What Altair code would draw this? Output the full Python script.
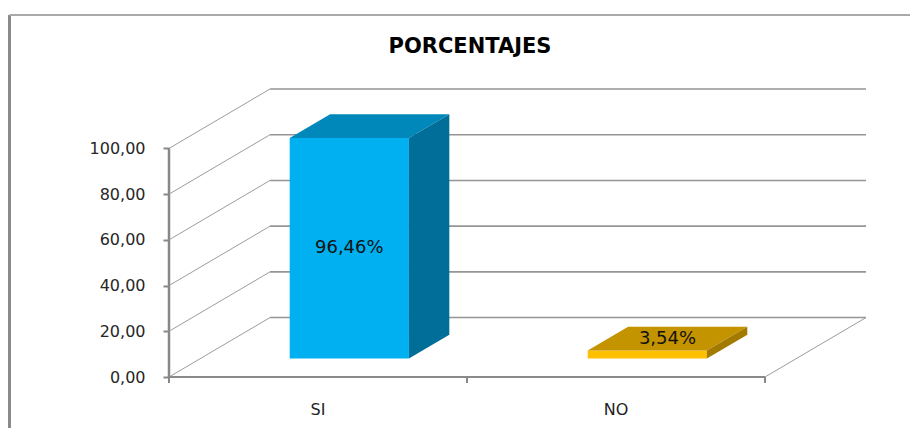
import altair as alt
import pandas as pd

# ---------------- data ----------------
CATEGORIES = ["SI", "NO"]
VALUES = [96.46, 3.54]
Y_TICKS = [0, 20, 40, 60, 80, 100]
TITLE = "PORCENTAJES"

# ---------------- style / geometry ----------------
FRONT = ["#00B0F0", "#FFC000"]
TOP = ["#0088BA", "#C49300"]
SIDE = ["#006E99", "#A37A00"]
GRID = "#959595"
DX = 0.339   # depth shift (category units)
DY = 26.0    # depth shift (value units)
Z0 = 0.31    # bar start along depth
BD = 0.40    # bar depth fraction
BW = 0.40    # bar width as fraction of band
W, H = 697, 288
N = len(CATEGORIES)
X_MAX = N + DX
Y_MAX = 126

xs = alt.Scale(domain=[0, X_MAX], nice=False, zero=False)
ys = alt.Scale(domain=[0, Y_MAX], nice=False, zero=False)

# back wall grid lines and side-wall diagonals
grid = pd.DataFrame({"v": Y_TICKS})
grid["bx"] = DX
grid["bx2"] = N + DX
grid["by"] = grid["v"] + DY
grid["sx"] = 0.0
grid["sx2"] = DX

# bars
front_rows, top_rows, side_rows, lab_rows = [], [], [], []
for i, (c, v) in enumerate(zip(CATEGORIES, VALUES)):
    ox, oy = Z0 * DX, Z0 * DY
    bdx, bdy = BD * DX, BD * DY
    x0 = i + (1 - BW) / 2 + ox
    x1 = x0 + BW
    y0 = oy
    y1 = v + oy
    front_rows.append({"cat": c, "x0": x0, "x1": x1, "y0": y0, "y1": y1})
    top_rows.append({"cat": c, "y": y1, "x": x0, "x2": x1})
    top_rows.append({"cat": c, "y": y1 + bdy, "x": x0 + bdx, "x2": x1 + bdx})
    side_rows.append({"cat": c, "x": x1, "y": y0, "y2": y1})
    side_rows.append({"cat": c, "x": x1 + bdx, "y": y0 + bdy, "y2": y1 + bdy})
    label = f"{v:.2f}".replace(".", ",") + "%"
    if v >= 10:
        lx, ly = (x0 + x1) / 2, (y0 + y1) / 2
    else:
        lx, ly = (x0 + x1) / 2 + bdx / 2, y1 + bdy / 2
    lab_rows.append({"cat": c, "x": lx, "y": ly, "label": label})

front = pd.DataFrame(front_rows)
top = pd.DataFrame(top_rows)
side = pd.DataFrame(side_rows)
labs = pd.DataFrame(lab_rows)
cats = pd.DataFrame({"cat": CATEGORIES, "x": [i + 0.5 for i in range(N)]})
xticks = pd.DataFrame({"x": list(range(N + 1))})
one = pd.DataFrame({"t": [TITLE]})

yaxis = alt.Axis(values=Y_TICKS, format=".2f",
                 labelExpr="replace(datum.label, '.', ',')",
                 domain=False, grid=False, tickSize=6, tickColor="#888888",
                 tickWidth=2, labelFont="DejaVu Sans", labelFontSize=16,
                 labelColor="#262626", labelPadding=18, title=None)

# front axis line (carries the y axis)
axis_line = alt.Chart(pd.DataFrame({"y": [0], "y2": [Y_TICKS[-1]]})).mark_rule(
    color="#888888", strokeWidth=2.5).encode(
    x=alt.value(0),
    y=alt.Y("y:Q", scale=ys, axis=yaxis),
    y2="y2:Q")

back_grid = alt.Chart(grid).mark_rule(color=GRID, strokeWidth=1.6).encode(
    x=alt.X("bx:Q", scale=xs, axis=None), x2="bx2:Q",
    y=alt.Y("by:Q", scale=ys))

side_grid = alt.Chart(grid).mark_rule(color="#9c9c9c", strokeWidth=1).encode(
    x=alt.X("sx:Q", scale=xs, axis=None), x2="sx2:Q",
    y=alt.Y("v:Q", scale=ys), y2="by:Q")

floor_front = alt.Chart(pd.DataFrame({"x": [0], "x2": [N], "y": [0]})).mark_rule(
    color="#8a8a8a", strokeWidth=2).encode(
    x=alt.X("x:Q", scale=xs, axis=None), x2="x2:Q",
    y=alt.Y("y:Q", scale=ys))

floor_right = alt.Chart(pd.DataFrame({"x": [N], "x2": [N + DX], "y": [0], "y2": [DY]})).mark_rule(
    color="#9c9c9c", strokeWidth=1).encode(
    x=alt.X("x:Q", scale=xs, axis=None), x2="x2:Q",
    y=alt.Y("y:Q", scale=ys), y2="y2:Q")

ticks_x = alt.Chart(xticks).mark_rule(color="#888888", strokeWidth=2).encode(
    x=alt.X("x:Q", scale=xs, axis=None),
    y=alt.value(H), y2=alt.value(H + 6))

front_face = alt.Chart(front).mark_rect().encode(
    x=alt.X("x0:Q", scale=xs, axis=None), x2="x1:Q",
    y=alt.Y("y0:Q", scale=ys), y2="y1:Q",
    color=alt.Color("cat:N", scale=alt.Scale(domain=CATEGORIES, range=FRONT), legend=None))

top_face = alt.Chart(top).mark_area(orient="horizontal", opacity=1).encode(
    y=alt.Y("y:Q", scale=ys),
    x=alt.X("x:Q", scale=xs, axis=None, stack=None), x2="x2:Q",
    color=alt.Color("cat:N", scale=alt.Scale(domain=CATEGORIES, range=TOP), legend=None))

side_face = alt.Chart(side).mark_area(orient="vertical", opacity=1).encode(
    x=alt.X("x:Q", scale=xs, axis=None),
    y=alt.Y("y:Q", scale=ys, stack=None), y2="y2:Q",
    color=alt.Color("cat:N", scale=alt.Scale(domain=CATEGORIES, range=SIDE), legend=None))

bar_labels = alt.Chart(labs).mark_text(
    font="DejaVu Sans", fontSize=18, color="#111111", align="center", baseline="middle").encode(
    x=alt.X("x:Q", scale=xs, axis=None),
    y=alt.Y("y:Q", scale=ys),
    text="label:N")

cat_labels = alt.Chart(cats).mark_text(
    font="DejaVu Sans", fontSize=16, color="#222222", align="center", baseline="middle").encode(
    x=alt.X("x:Q", scale=xs, axis=None),
    y=alt.value(H + 33),
    text="cat:N")

title_mark = alt.Chart(one).mark_text(
    font="DejaVu Sans", fontSize=21, fontWeight="bold", color="#000000",
    align="center", baseline="middle").encode(
    x=alt.value(301), y=alt.value(-42), text="t:N")

border_left = alt.Chart(one).mark_rule(color="#8a8a8a", strokeWidth=3).encode(
    x=alt.value(-159.5), y=alt.value(-74), y2=alt.value(H + 70))
border_top = alt.Chart(one).mark_rule(color="#aaaaaa", strokeWidth=2).encode(
    x=alt.value(-159.5), x2=alt.value(W + 70), y=alt.value(-74))

chart = alt.layer(
    axis_line, back_grid, side_grid, floor_front, floor_right, ticks_x,
    front_face, top_face, side_face, bar_labels, cat_labels,
    border_left, border_top, title_mark,
).resolve_scale(color="independent").properties(
    width=W, height=H,
    autosize=alt.AutoSizeParams(type="none"),
    padding={"left": 161, "top": 81, "right": 44, "bottom": 51},
).configure_view(stroke=None)

chart.save("out.html", embed_options={"renderer": "svg", "actions": False})
